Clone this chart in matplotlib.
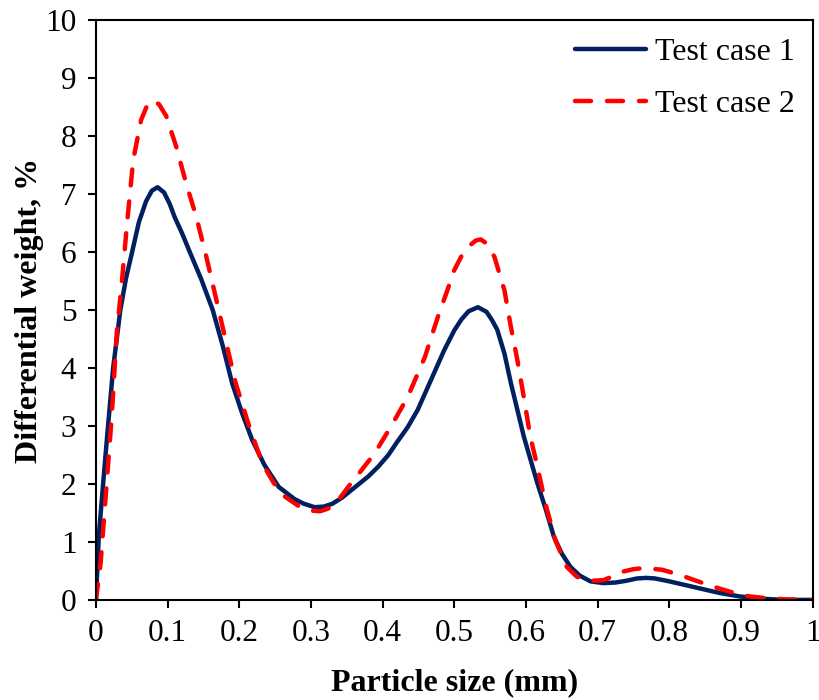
import matplotlib
matplotlib.use('Agg')
import matplotlib.pyplot as plt
from matplotlib.ticker import MultipleLocator, FuncFormatter

# Particle size (mm) and differential weight (%)
size_case1 = [0, 0.004, 0.01, 0.016, 0.024, 0.034, 0.042, 0.051, 0.06, 0.07,
              0.078, 0.086, 0.095, 0.103, 0.11, 0.12, 0.13, 0.147, 0.163, 0.177,
              0.19, 0.204, 0.218, 0.235, 0.255, 0.277, 0.29, 0.305, 0.318, 0.33,
              0.343, 0.36, 0.38, 0.394, 0.408, 0.42, 0.435, 0.449, 0.467, 0.486,
              0.5, 0.51, 0.52, 0.533, 0.545, 0.553, 0.56, 0.57, 0.579, 0.597,
              0.616, 0.628, 0.639, 0.65, 0.662, 0.675, 0.69, 0.708, 0.725, 0.74,
              0.755, 0.768, 0.78, 0.80, 0.835, 0.87, 0.898, 0.93, 0.96, 1.0]
weight_case1 = [0, 1.1, 2.0, 2.88, 4.0, 5.0, 5.55, 6.03, 6.52, 6.88,
                7.06, 7.12, 7.03, 6.83, 6.6, 6.33, 6.03, 5.53, 5.0, 4.38,
                3.74, 3.22, 2.76, 2.33, 1.95, 1.74, 1.66, 1.6, 1.61, 1.66,
                1.76, 1.93, 2.13, 2.3, 2.5, 2.72, 2.98, 3.28, 3.78, 4.31,
                4.65, 4.84, 4.98, 5.05, 4.97, 4.82, 4.66, 4.25, 3.74, 2.82,
                2.01, 1.55, 1.09, 0.8, 0.57, 0.42, 0.32, 0.29, 0.3, 0.33,
                0.37, 0.38, 0.37, 0.32, 0.22, 0.12, 0.06, 0.02, 0.0, 0.0]

size_case2 = [0, 0.0065, 0.015, 0.022, 0.029, 0.036, 0.043, 0.052, 0.063, 0.072,
              0.08, 0.088, 0.098, 0.112, 0.126, 0.14, 0.154, 0.167, 0.181, 0.195,
              0.214, 0.232, 0.248, 0.264, 0.285, 0.3, 0.313, 0.325, 0.337, 0.352,
              0.37, 0.389, 0.412, 0.435, 0.459, 0.477, 0.49, 0.5, 0.51, 0.52,
              0.53, 0.537, 0.545, 0.556, 0.57, 0.579, 0.588, 0.597, 0.606, 0.616,
              0.627, 0.641, 0.657, 0.671, 0.69, 0.708, 0.72, 0.736, 0.75, 0.765,
              0.79, 0.815, 0.84, 0.861, 0.885, 0.912, 0.935, 0.962, 1.0]
weight_case2 = [0, 0.63, 2.01, 3.16, 4.6, 5.46, 6.44, 7.59, 8.28, 8.55,
                8.62, 8.55, 8.35, 7.82, 7.18, 6.61, 5.92, 5.23, 4.48, 3.74,
                2.99, 2.36, 2.02, 1.78, 1.6, 1.54, 1.53, 1.58, 1.7, 1.95,
                2.23, 2.53, 3.0, 3.5, 4.19, 4.88, 5.33, 5.69, 5.93, 6.1,
                6.2, 6.22, 6.15, 5.92, 5.34, 4.71, 4.14, 3.5, 2.82, 2.30,
                1.67, 1.03, 0.57, 0.4, 0.33, 0.34, 0.4, 0.49, 0.53, 0.55,
                0.52, 0.43, 0.32, 0.23, 0.14, 0.06, 0.03, 0.01, 0]

plt.rcParams['font.family'] = ['Liberation Serif', 'DejaVu Serif']

fig = plt.figure(figsize=(8.2, 7), dpi=100)
ax = fig.add_axes([0.117, 0.143, 0.874, 0.828])

ax.plot(size_case1, weight_case1, color='#002060', lw=3.2,
        solid_capstyle='round', solid_joinstyle='round', label='Test case 1')
ax.plot(size_case2, weight_case2, color='#FF0000', lw=3.2,
        linestyle=(0, (3.6, 3.6)), dash_capstyle='round', dash_joinstyle='round',
        label='Test case 2')

ax.set_xlim(0, 1)
ax.set_ylim(0, 10)
ax.xaxis.set_major_locator(MultipleLocator(0.1))
ax.yaxis.set_major_locator(MultipleLocator(1))
ax.xaxis.set_major_formatter(FuncFormatter(lambda v, p: '%g' % round(v, 1)))
ax.yaxis.set_major_formatter(FuncFormatter(lambda v, p: '%g' % v))

for s in ax.spines.values():
    s.set_linewidth(1.5)
ax.tick_params(direction='out', length=6, width=1.5, labelsize=22.5, pad=8)

ax.set_xlabel('Particle size (mm)', fontsize=23, fontweight='bold', labelpad=14)
ax.set_ylabel('Differential weight, %', fontsize=23, fontweight='bold', labelpad=1)

ax.legend(loc='upper right', frameon=False, fontsize=23, handlelength=2.2,
          labelspacing=0.7, handletextpad=0.3, borderaxespad=0.15)

fig.savefig('out.png', dpi=100)
